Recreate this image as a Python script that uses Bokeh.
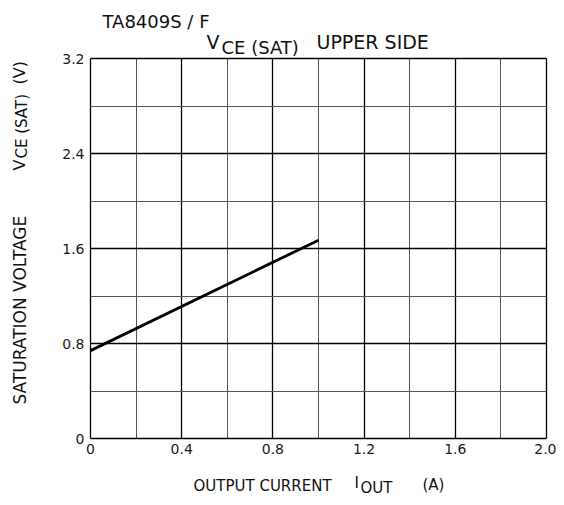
import math
from bokeh.plotting import figure
from bokeh.models import Range1d, FixedTicker, Label, Grid
from bokeh.embed import file_html
from bokeh.resources import INLINE

# ---- data ----
i_out = [0.0, 1.0]          # A
v_sat = [0.74, 1.67]        # V
x_ticks = [0, 0.4, 0.8, 1.2, 1.6, 2.0]
x_minor = [0.2, 0.6, 1.0, 1.4, 1.8]
y_ticks = [0, 0.8, 1.6, 2.4, 3.2]
y_minor = [0.4, 1.2, 2.0, 2.8]
x_tick_labels = {0: "0", 0.4: "0.4", 0.8: "0.8", 1.2: "1.2", 1.6: "1.6", 2.0: "2.0"}
y_tick_labels = {0: "0", 0.8: "0.8", 1.6: "1.6", 2.4: "2.4", 3.2: "3.2"}

FONT = "DejaVu Sans"
W, H = 556, 497
# chart box in canvas pixels: left 90, right 546, top 58, bottom 438
PX_L, PX_R, PX_T, PX_B = 90, 546, 58, 438
XMIN, XMAX = x_ticks[0], x_ticks[-1]
YMIN, YMAX = y_ticks[0], y_ticks[-1]
sx = (PX_R - PX_L) / (XMAX - XMIN)
sy = (PX_B - PX_T) / (YMAX - YMIN)

def dx(px):
    return XMIN + (px - PX_L) / sx

def dy(py):
    return YMIN + (PX_B - py) / sy

p = figure(width=W, height=H, output_backend="svg", toolbar_location=None,
           x_range=Range1d(dx(0), dx(W)), y_range=Range1d(dy(H), dy(0)),
           min_border_left=0, min_border_right=0, min_border_top=0, min_border_bottom=0)
p.background_fill_color = "white"
p.border_fill_color = "white"
p.outline_line_color = None

p.xaxis.ticker = FixedTicker(ticks=x_ticks, minor_ticks=x_minor)
p.yaxis.ticker = FixedTicker(ticks=y_ticks, minor_ticks=y_minor)
p.xaxis.major_label_overrides = x_tick_labels
p.yaxis.major_label_overrides = y_tick_labels
p.xaxis.fixed_location = YMIN
p.yaxis.fixed_location = XMIN
p.xaxis.bounds = (XMIN, XMAX)
p.yaxis.bounds = (YMIN, YMAX)
for ax in (p.xaxis, p.yaxis):
    ax.axis_line_color = None
    ax.major_tick_line_color = None
    ax.minor_tick_line_color = None
    ax.major_tick_out = 0
    ax.major_tick_in = 0
    ax.minor_tick_out = 0
    ax.minor_tick_in = 0
    ax.major_label_text_font = FONT
    ax.major_label_text_font_size = "14px"
    ax.major_label_text_color = "#1a1a1a"
p.xaxis.major_label_standoff = 5
p.yaxis.major_label_standoff = 6

has_cb = "cross_bounds" in Grid.properties()
p.xgrid.bounds = (XMIN, XMAX)
p.ygrid.bounds = (YMIN, YMAX)
if has_cb:
    p.xgrid.cross_bounds = (YMIN, YMAX)
    p.ygrid.cross_bounds = (XMIN, XMAX)
for g in (p.xgrid, p.ygrid):
    g.grid_line_color = "black"
    g.grid_line_width = 1.3
    g.grid_line_alpha = 1.0
    g.minor_grid_line_color = "#555555"
    g.minor_grid_line_width = 1.0

p.line(i_out, v_sat, line_color="black", line_width=2.8)

def lab(text, px, py, size, angle=0.0):
    p.add_layout(Label(x=dx(px), y=dy(py), text=text, text_font=FONT,
                       text_font_size=size, text_color="#111111",
                       text_align="left", text_baseline="middle", angle=angle))

# titles
lab("TA8409S / F", 102, 21, "18px")
lab("V", 206, 41, "19px")
lab("CE (SAT)", 221, 47, "18px")
lab("UPPER SIDE", 316, 41, "19px")

# x axis title
lab("OUTPUT CURRENT", 193, 485, "15px")
lab("I", 354, 482, "15px")
lab("OUT", 360, 487, "15px")
lab("(A)", 422, 484, "15px")

# y axis title (rotated)
r = math.pi / 2
lab("SATURATION VOLTAGE", 19, 404, "17px", angle=r)
lab("V", 19, 170, "16px", angle=r)
lab("CE (SAT)", 21, 158, "15px", angle=r)
lab("(V)", 19, 84, "16px", angle=r)

open("out.html", "w").write(file_html(p, INLINE))
